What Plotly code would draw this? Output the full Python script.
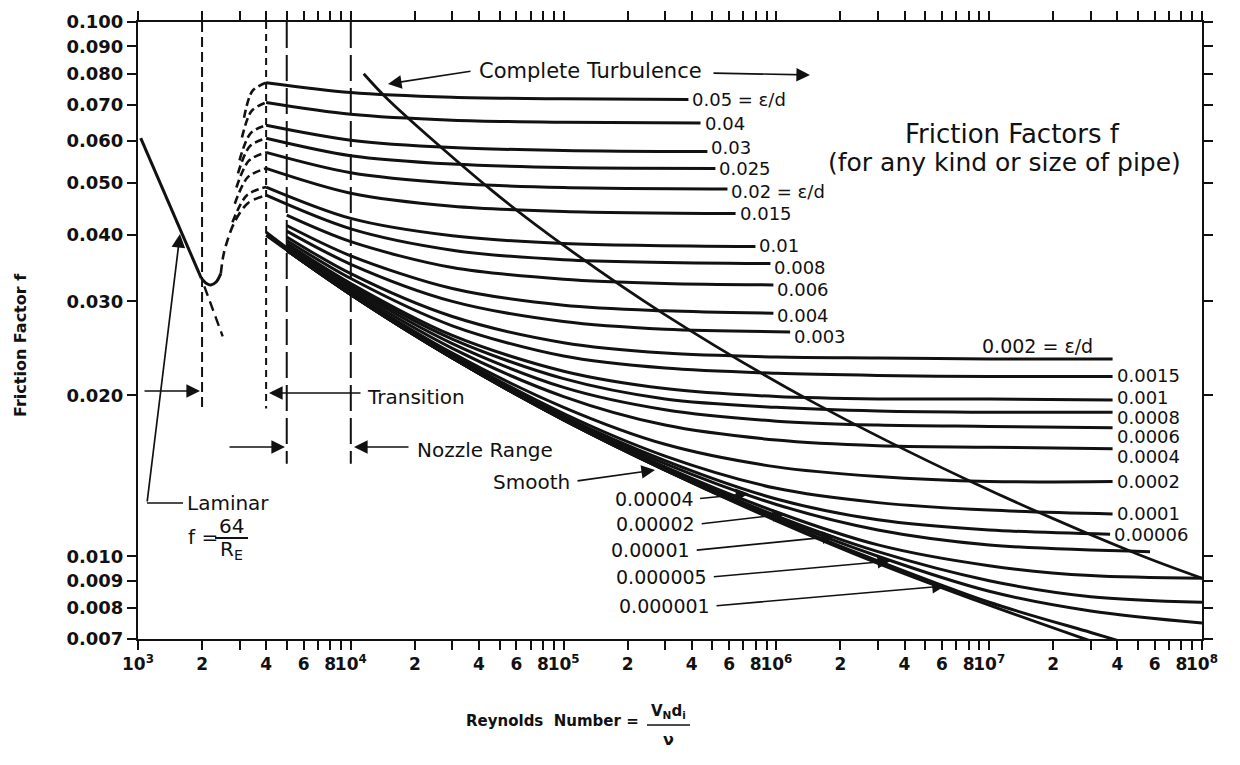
import numpy as np
import plotly.graph_objects as go

W, H = 1240, 765
ML, MR, MT, MB = 138, 38, 22, 126
PW, PH = W - ML - MR, H - MT - MB
FONT = "DejaVu Sans"
INK = "#111111"

# ---------------- values ----------------
# laminar line and its hook into the critical zone
lam_re = [1030, 1980]
lam_f = [0.0606, 0.0332]
hook_re = [1980, 2100, 2200, 2330, 2450]
hook_f = [0.0332, 0.0324, 0.0322, 0.0326, 0.0338]
lam_ext_re = [2050, 2500]
lam_ext_f = [0.0320, 0.0258]
rise_re = [2450, 2535, 2825, 3281, 4000]
rise_f = [0.0338, 0.0370, 0.0420, 0.0458, 0.0474]

# dashed transition arcs (tail, middle, peak at Re = 4000)
arc_tail_re = [3150, 3080, 3000, 2950, 2900, 2850, 2780]
arc_mid_re = [3450, 3420, 3380, 3350, 3320, 3290, 3250]
arc_peak_re = [4000, 4000, 4000, 4000, 4000, 4000, 4000]
arc_tail_f = [0.0662, 0.0608, 0.0551, 0.0521, 0.0490, 0.0457, 0.0422]
arc_mid_f = [0.0743, 0.0682, 0.0619, 0.0585, 0.0550, 0.0513, 0.0474]
arc_peak_f = [0.0770, 0.0707, 0.0641, 0.0606, 0.0570, 0.0532, 0.0491]

# group A: rough pipes, curves start at Re = 4000
labels_a = ["0.05 = ε/d", "0.04", "0.03", "0.025", "0.02 = ε/d", "0.015", "0.01", "0.008"]
label_a_shift = [0, 0, 4, 0, -3, 0, 1, -4]
re_a = [4e3, 1e4, 3e4, 1e5]
f_a = [
    [0.0770, 0.0738, 0.0723, 0.0718],
    [0.0707, 0.0672, 0.0655, 0.0649],
    [0.0641, 0.0601, 0.0582, 0.0575],
    [0.0606, 0.0562, 0.0542, 0.0534],
    [0.0570, 0.0522, 0.0499, 0.0490],
    [0.0532, 0.0478, 0.0452, 0.0442],
    [0.0491, 0.0429, 0.0398, 0.0385],
    [0.0474, 0.0410, 0.0374, 0.0359],
]
end_re_a = [3.86e5, 4.4e5, 4.74e5, 5.17e5, 5.89e5, 6.43e5, 7.97e5, 9.38e5]
end_f_a = [0.0716, 0.0647, 0.0572, 0.0532, 0.0487, 0.0438, 0.0380, 0.0353]

# group A2: start at Re = 5000
labels_a2 = ["0.006", "0.004", "0.003"]
label_a2_shift = [-5, -2, -5]
re_a2 = [5e3, 1e4, 3e4, 1e5, 3e5]
f_a2 = [
    [0.0435, 0.0388, 0.0347, 0.0330, 0.0324],
    [0.0416, 0.0365, 0.0317, 0.0295, 0.0288],
    [0.0406, 0.0352, 0.0300, 0.0275, 0.0266],
]
end_re_a2 = [9.68e5, 9.68e5, 1.16e6]
end_f_a2 = [0.0322, 0.0285, 0.0263]

# group B: long curves ending near Re = 4e7
labels_b = ["0.002 = ε/d", "0.0015", "0.001", "0.0008", "0.0006", "0.0004", "0.0002", "0.0001", "0.00006", ""]
label_b_shift = [13, 1, 3, -5, -9, -8, 0, 0, 0, 0]
re_b = [5e3, 1e4, 3e4, 1e5, 3e5, 1e6, 3e6, 1e7]
f_b = [
    [0.0396, 0.0338, 0.0281, 0.0251, 0.0240, 0.0236, 0.0235, 0.0234],
    [0.0390, 0.0331, 0.0270, 0.0237, 0.0225, 0.0220, 0.0218, 0.0217],
    [0.0385, 0.0324, 0.0259, 0.0222, 0.0206, 0.0199, 0.0197, 0.0197],
    [0.0383, 0.0321, 0.0255, 0.0215, 0.0197, 0.0190, 0.0187, 0.0186],
    [0.0380, 0.0318, 0.0250, 0.0207, 0.0188, 0.0179, 0.0176, 0.0175],
    [0.0378, 0.0315, 0.0245, 0.0199, 0.0176, 0.0165, 0.0161, 0.0160],
    [0.0375, 0.0312, 0.0240, 0.0190, 0.0162, 0.0147, 0.0141, 0.0138],
    [0.0375, 0.0310, 0.0238, 0.0185, 0.0154, 0.0134, 0.0126, 0.0122],
    [0.0374, 0.0310, 0.0237, 0.0183, 0.0151, 0.0128, 0.0117, 0.0112],
    [0.0374, 0.0309, 0.0236, 0.0182, 0.0149, 0.0125, 0.0112, 0.0105],
]
end_re_b = [3.8e7, 3.8e7, 3.8e7, 3.8e7, 3.8e7, 3.8e7, 3.8e7, 3.8e7, 3.7e7, 5.7e7]
end_f_b = [0.0234, 0.0217, 0.0196, 0.0186, 0.0174, 0.0159, 0.0138, 0.0120, 0.0110, 0.0102]

# group C: curves running to Re = 1e8
re_c = [5e3, 1e4, 3e4, 1e5, 3e5, 1e6, 3e6, 1e7, 3e7, 1e8]
f_c = [
    [0.0374, 0.0309, 0.0235, 0.0181, 0.0147, 0.0121, 0.0105, 0.0096, 0.0092, 0.0091],
    [0.0374, 0.0309, 0.0235, 0.0180, 0.0146, 0.0119, 0.0102, 0.0090, 0.0084, 0.0082],
    [0.0374, 0.0309, 0.0235, 0.0180, 0.0145, 0.0118, 0.0100, 0.0086, 0.0079, 0.0075],
]

# very smooth pipes
re_s1 = [4e3, 1e4, 3e4, 1e5, 3e5, 1e6, 3e6, 1e7, 3e7, 4e7]
f_s1 = [0.0404, 0.0309, 0.0235, 0.0180, 0.0145, 0.0117, 0.0098, 0.0082, 0.0072, 0.00696]
re_smooth = [4e3, 1e4, 3e4, 1e5, 3e5, 1e6, 3e6, 1e7, 3e7]
f_smooth = [0.0399, 0.0309, 0.0235, 0.0180, 0.0145, 0.01165, 0.0097, 0.0081, 0.00694]

# complete-turbulence boundary
turb_re = [11500, 14950, 45350, 102700, 296600, 1.427e6, 8.53e6, 4.965e7, 1.0e8]
turb_f = [0.0800, 0.0716, 0.0486, 0.0379, 0.0284, 0.0196, 0.0137, 0.0101, 0.0091]

# vertical zone markers
vline_re = [2000, 4000, 5000, 10000]
vline_top = [0.100, 0.100, 0.100, 0.100]
vline_bot = [0.0187, 0.0189, 0.0149, 0.0149]
vline_dash = ["10px,5px", "7px,5px", "26px,7px", "26px,7px"]

# labels pointing at the low-roughness curves
low_labels = ["0.00004", "0.00002", "0.00001", "0.000005", "0.000001"]
low_head_re = [7.4e5, 1.1e6, 1.89e6, 3.43e6, 6.2e6]
low_head_f = [0.0131, 0.0120, 0.0109, 0.0098, 0.0088]
low_dx = [-50, -85, -140, -178, -230]
low_dy = [5, 10, 14, 16, 20]

# axis ticks
x_tick_vals = [1e3, 2e3, 4e3, 6e3, 8e3, 1e4, 2e4, 4e4, 6e4, 8e4, 1e5, 2e5, 4e5, 6e5, 8e5,
               1e6, 2e6, 4e6, 6e6, 8e6, 1e7, 2e7, 4e7, 6e7, 8e7, 1e8]
x_tick_text = ["10<sup>3</sup>", "2", "4", "6", "8", "10<sup>4</sup>", "2", "4", "6", "8",
               "10<sup>5</sup>", "2", "4", "6", "8", "10<sup>6</sup>", "2", "4", "6", "8",
               "10<sup>7</sup>", "2", "4", "6", "8", "10<sup>8</sup>"]
x_minor_vals = [m * 10 ** d for d in range(3, 8) for m in (3, 5, 7, 9)]
y_tick_vals = [0.007, 0.008, 0.009, 0.010, 0.020, 0.030, 0.040, 0.050, 0.060, 0.070, 0.080, 0.090, 0.100]
y_tick_text = ["0.007", "0.008", "0.009", "0.010", "0.020", "0.030", "0.040",
               "0.050", "0.060", "0.070", "0.080", "0.090", "0.100"]

# ---------------- figure ----------------
fig = go.Figure()


def line(x, y, width=3.0, dash=None, spline=True):
    fig.add_trace(go.Scatter(
        x=x, y=y, mode="lines", hoverinfo="skip", showlegend=False,
        line=dict(color=INK, width=width, dash=dash,
                  shape="spline" if spline else "linear", smoothing=0.9)))


line(lam_re, lam_f, spline=False)
line(hook_re, hook_f)
line(lam_ext_re, lam_ext_f, width=2.4, dash="10px,6px", spline=False)
line(rise_re, rise_f, width=2.6, dash="9px,5px")
for i in range(len(arc_peak_f)):
    line([arc_tail_re[i], arc_mid_re[i], arc_peak_re[i]],
         [arc_tail_f[i], arc_mid_f[i], arc_peak_f[i]], width=2.6, dash="8px,4px")

for fs, e_re, e_f in zip(f_a, end_re_a, end_f_a):
    line(re_a + [e_re], fs + [e_f])
for fs, e_re, e_f in zip(f_a2, end_re_a2, end_f_a2):
    line(re_a2 + [e_re], fs + [e_f])
for fs, e_re, e_f in zip(f_b, end_re_b, end_f_b):
    line(re_b + [e_re], fs + [e_f])
for fs in f_c:
    line(re_c, fs)
line(re_s1, f_s1)
line(re_smooth, f_smooth)
line(turb_re, turb_f, width=2.8)

for r, t, b, d in zip(vline_re, vline_top, vline_bot, vline_dash):
    line([r, r], [t, b], width=2.0, dash=d, spline=False)


def pxx(x):
    return (x - ML) / PW


def pxy(y):
    return 1 - (y - MT) / PH


ann = []


def text_px(txt, x, y, size=19, xanchor="left", bold=False, angle=0):
    ann.append(dict(text=txt, x=pxx(x), y=pxy(y), xref="paper", yref="paper",
                    xanchor=xanchor, yanchor="middle", showarrow=False, textangle=angle,
                    font=dict(family=FONT, size=size, color=INK,
                              weight="bold" if bold else "normal")))


def arrow_px(hx, hy, tx, ty):
    ann.append(dict(text="", x=pxx(hx), y=pxy(hy), xref="paper", yref="paper",
                    ax=tx - hx, ay=ty - hy, showarrow=True, arrowhead=2,
                    arrowsize=1.6, arrowwidth=1.7, arrowcolor=INK, standoff=0))


# curve end labels
for lab, e_re, e_f, sh in zip(labels_a + labels_a2, end_re_a + end_re_a2,
                              end_f_a + end_f_a2, label_a_shift + label_a2_shift):
    ann.append(dict(text=lab, x=np.log10(e_re), y=np.log10(e_f), xref="x", yref="y",
                    xanchor="left", yanchor="middle", xshift=2, yshift=sh, showarrow=False,
                    font=dict(family=FONT, size=18, color=INK)))
for k, (lab, e_re, e_f) in enumerate(zip(labels_b, end_re_b, end_f_b)):
    if not lab:
        continue
    if k == 0:
        ann.append(dict(text=lab, x=np.log10(e_re), y=np.log10(e_f), xref="x", yref="y",
                        xanchor="right", yanchor="middle", xshift=-18, yshift=label_b_shift[k],
                        showarrow=False, font=dict(family=FONT, size=19, color=INK)))
    else:
        ann.append(dict(text=lab, x=np.log10(e_re), y=np.log10(e_f), xref="x", yref="y",
                        xanchor="left", yanchor="middle", xshift=2, yshift=label_b_shift[k],
                        showarrow=False, font=dict(family=FONT, size=18, color=INK)))

# left-side labels with arrows to the curves
for lab, hr, hf, dx, dy in zip(low_labels, low_head_re, low_head_f, low_dx, low_dy):
    ann.append(dict(text="", x=np.log10(hr), y=np.log10(hf), xref="x", yref="y",
                    ax=dx, ay=dy, showarrow=True, arrowhead=2, arrowsize=1.6,
                    arrowwidth=1.6, arrowcolor=INK, standoff=0))
    ann.append(dict(text=lab, x=np.log10(hr), y=np.log10(hf), xref="x", yref="y",
                    xanchor="right", yanchor="middle", xshift=dx - 3, yshift=-dy,
                    showarrow=False, font=dict(family=FONT, size=19, color=INK)))

# region annotations
text_px("Complete Turbulence", 477, 71, size=21)
arrow_px(388, 84, 472, 71)
arrow_px(810, 75, 712, 73)
text_px("Friction Factors f", 1012, 134, size=26, xanchor="center")
text_px("(for any kind or size of pipe)", 1004, 162, size=25, xanchor="center")
text_px("Transition", 365, 397, size=20)
arrow_px(269, 393, 362, 393)
arrow_px(200, 391, 143, 391)
text_px("Nozzle Range", 415, 450, size=20)
arrow_px(285, 447, 228, 447)
arrow_px(354, 447, 410, 447)
text_px("Smooth", 572, 482, size=20, xanchor="right")
arrow_px(655, 470, 576, 481)
text_px("Laminar", 185, 503, size=20)
arrow_px(180, 234, 147, 503)
text_px("f =", 186, 537, size=20)
text_px("64", 231, 526, size=20, xanchor="center")
text_px("R<sub>E</sub>", 231, 550, size=20, xanchor="center")
text_px("Friction Factor f", 20, 345, size=16, xanchor="center", bold=True, angle=-90)
text_px("Reynolds  Number =", 641, 721, size=15, xanchor="right", bold=True)
text_px("V<sub>N</sub>d<sub>i</sub>", 668, 711, size=15, xanchor="center", bold=True)
text_px("ν", 668, 739, size=16, xanchor="center", bold=True)

shapes = [
    dict(type="line", xref="paper", yref="paper", x0=pxx(147), x1=pxx(183),
         y0=pxy(503), y1=pxy(503), line=dict(color=INK, width=1.7)),
    dict(type="line", xref="paper", yref="paper", x0=pxx(215), x1=pxx(248),
         y0=pxy(538), y1=pxy(538), line=dict(color=INK, width=2)),
    dict(type="line", xref="paper", yref="paper", x0=pxx(647), x1=pxx(690),
         y0=pxy(725), y1=pxy(725), line=dict(color=INK, width=1.6)),
]

axis_common = dict(showgrid=False, zeroline=False, showline=True, linecolor=INK,
                   linewidth=2, mirror="ticks", ticks="outside", ticklen=9,
                   tickwidth=1.6, tickcolor=INK, automargin=False, tickangle=0)

fig.update_layout(
    width=W, height=H, margin=dict(l=ML, r=MR, t=MT, b=MB, autoexpand=False),
    paper_bgcolor="white", plot_bgcolor="white", showlegend=False,
    hovermode=False, annotations=ann, shapes=shapes,
    font=dict(family=FONT, color=INK),
    xaxis=dict(type="log", range=[3, 8], tickmode="array", tickvals=x_tick_vals,
               ticktext=x_tick_text,
               tickfont=dict(family=FONT, size=17, color=INK, weight="bold"),
               minor=dict(tickmode="array", tickvals=x_minor_vals, ticks="outside",
                          ticklen=9, tickwidth=1.6, tickcolor=INK),
               **axis_common),
    yaxis=dict(type="log", range=[np.log10(0.007), -1], tickmode="array",
               tickvals=y_tick_vals, ticktext=y_tick_text,
               tickfont=dict(family=FONT, size=18, color=INK, weight="bold"),
               **axis_common),
)

fig.write_html("out.html")
